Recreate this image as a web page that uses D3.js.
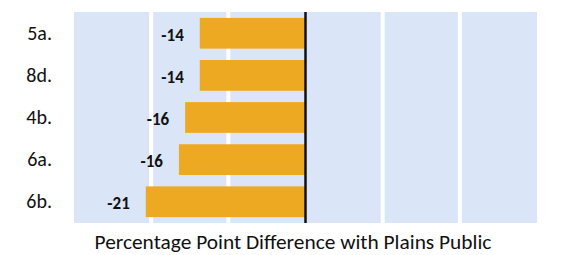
<!DOCTYPE html>
<html>
<head>
<meta charset="utf-8">
<script src="https://cdn.jsdelivr.net/npm/d3@7"></script>
<style>
  body { margin: 0; background: #fff; }
  text { font-family: Carlito, "Open Sans", "Noto Sans", sans-serif; }
</style>
</head>
<body>
<div id="chart"></div>
<script>
var categories = ["5a.", "8d.", "4b.", "6a.", "6b."];
var values = [-13.7, -13.7, -15.6, -16.4, -20.7];
var gridTicks = [-30, -20, -10, 0, 10, 20, 30];
var axisTitle = "Percentage Point Difference with Plains Public";

var width = 561;
var height = 255;
var margin = { top: 12, right: 24, bottom: 32, left: 74 };

var svg = d3.select("#chart").append("svg")
  .attr("width", width)
  .attr("height", height);

var x = d3.scaleLinear()
  .domain([-30, 30])
  .range([margin.left, width - margin.right]);

var y = d3.scaleBand()
  .domain(categories)
  .range([margin.top, height - margin.bottom])
  .paddingInner(0.27)
  .paddingOuter(0.14);

// plot background
svg.append("rect")
  .attr("x", x(-30))
  .attr("y", margin.top)
  .attr("width", x(30) - x(-30))
  .attr("height", height - margin.bottom - margin.top)
  .attr("fill", "#dae5f7");

// white gridlines
svg.selectAll(".grid")
  .data(gridTicks.filter(d => d != 0 && Math.abs(d) < 30))
  .enter()
  .append("line")
  .attr("class", "grid")
  .attr("x1", d => x(d))
  .attr("x2", d => x(d))
  .attr("y1", margin.top)
  .attr("y2", height - margin.bottom)
  .attr("stroke", "#fff")
  .attr("stroke-width", 4);

var data = categories.map((c, i) => ({ cat: c, val: values[i] }));

svg.selectAll(".bar")
  .data(data)
  .enter()
  .append("rect")
  .attr("class", "bar")
  .attr("x", d => x(Math.min(0, d.val)))
  .attr("y", d => y(d.cat))
  .attr("width", d => Math.abs(x(d.val) - x(0)))
  .attr("height", y.bandwidth())
  .attr("fill", "#eea922");

// zero line
svg.append("line")
  .attr("x1", x(0))
  .attr("x2", x(0))
  .attr("y1", margin.top)
  .attr("y2", height - margin.bottom)
  .attr("stroke", "#111")
  .attr("stroke-width", 2.5);

// value labels
svg.selectAll(".val")
  .data(data)
  .enter()
  .append("text")
  .attr("class", "val")
  .attr("x", d => x(d.val) - 16)
  .attr("y", d => y(d.cat) + y.bandwidth() / 2 + 2)
  .attr("dominant-baseline", "central")
  .attr("text-anchor", "end")
  .attr("font-size", 17)
  .attr("font-weight", "bold")
  .attr("fill", "#111")
  .text(d => Math.round(d.val));

// category axis
var yAxis = svg.append("g")
  .attr("transform", "translate(" + (margin.left - 22) + ",0)")
  .call(d3.axisLeft(y).tickSize(0).tickPadding(0));
yAxis.select(".domain").remove();
yAxis.attr("font-family", null).attr("font-size", null);
yAxis.selectAll("text")
  .attr("font-size", 20)
  .attr("fill", "#111");

var title = svg.append("text")
  .attr("x", 293)
  .attr("y", 249)
  .attr("text-anchor", "middle")
  .attr("font-size", 16)
  .attr("fill", "#111")
  .text(axisTitle);
// fit title to the width it takes in the original
var tw = title.node().getComputedTextLength();
title.attr("font-size", 16 * 397 / tw);
</script>
</body>
</html>
